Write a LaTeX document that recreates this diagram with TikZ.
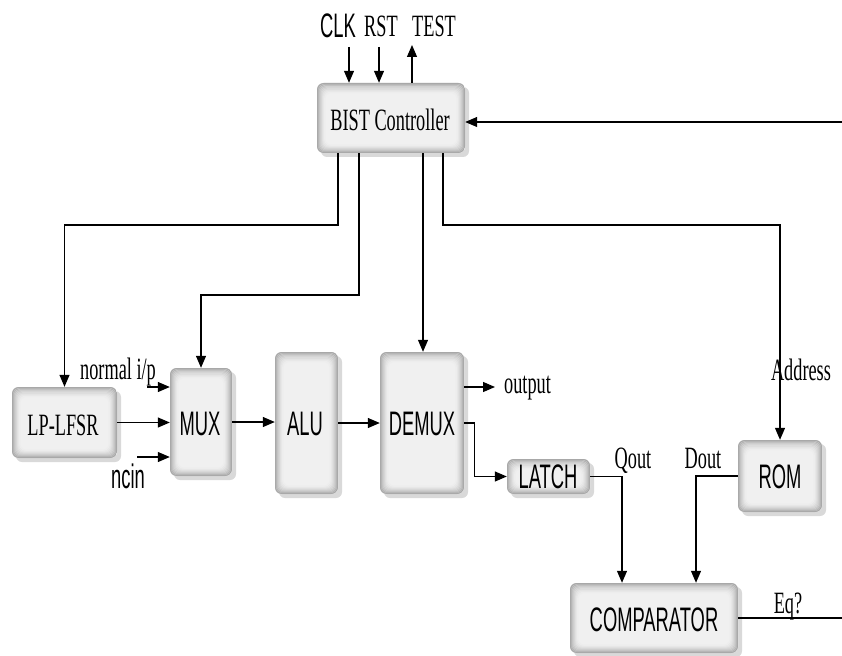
\documentclass[tikz,border=0pt]{standalone}
\usepackage{fontspec}
\setmainfont{Liberation Serif}[FakeStretch=0.59]
\setsansfont{Liberation Sans}[FakeStretch=0.54]
\usetikzlibrary{arrows.meta,shadows,calc}
\begin{document}
\begin{tikzpicture}[x=1pt,y=-1pt,
  font=\fontsize{31}{32}\selectfont,
  sf/.style={font=\sffamily\fontsize{34}{35}\selectfont},
  arr/.style={line width=1.2pt,-{Triangle[length=12pt,width=10pt]}},
  wire/.style={line width=1.2pt},
  lbl/.style={anchor=base,inner sep=0pt},
  blk/.style={rounded corners=6pt, fill=gray!12, inner sep=0pt,
    drop shadow={shadow xshift=4pt,shadow yshift=-4pt,opacity=0.3,fill=gray},
    path picture={
      \foreach \k/\c in {0/68,1/58,2/49,3/41,4/34,5/28,6/22,7/18,8/14}{
        \draw[gray!\c, line width=1.3pt, rounded corners=6pt]
          ([shift={({\k*0.9pt+0.65pt},{\k*0.9pt+0.65pt})}]path picture bounding box.south west) rectangle
          ([shift={({-\k*0.9pt-0.65pt},{-\k*1.1pt-0.65pt})}]path picture bounding box.north east);
      }
    }},
]
\useasboundingbox (0,0) rectangle (842,655);

% blocks
\node[blk, minimum width=148pt, minimum height=70pt] (bist) at (391,118) {};
\node[blk, minimum width=105pt, minimum height=71pt] (lfsr) at (64.5,422.5) {};
\node[blk, minimum width=62pt, minimum height=108pt] (mux) at (201,422) {};
\node[blk, minimum width=63pt, minimum height=142pt] (alu) at (306.5,423) {};
\node[blk, minimum width=84pt, minimum height=142pt] (demux) at (422,423) {};
\node[blk, minimum width=83pt, minimum height=35pt] (latch) at (548.5,476.5) {};
\node[blk, minimum width=84pt, minimum height=72pt] (rom) at (780,476) {};
\node[blk, minimum width=168pt, minimum height=70pt] (comp) at (654,618) {};

% block texts
\node[lbl] (tbist) at (390,131) {BIST Controller};
\node[lbl] (tlfsr) at (63,435) {LP-LFSR};
\node[lbl,sf] (tmux) at (200,435) {MUX};
\node[lbl,sf] (talu) at (305,435) {ALU};
\node[lbl,sf] (tdemux) at (422,435) {DEMUX};
\node[lbl,sf] (tlatch) at (548,488) {LATCH};
\node[lbl,sf] (trom) at (780,488) {ROM};
\node[lbl,sf] (tcomp) at (654,631) {COMPARATOR};

% signal labels
\node[lbl,sf] (lclk) at (338,38) {CLK};
\node[lbl] (lrst) at (381,37) {RST};
\node[lbl] (ltest) at (434,37) {TEST};
\node[lbl] (lnorm) at (118,379) {normal i/p};
\node[lbl,sf] (lncin) at (128,488) {ncin};
\node[lbl,anchor=base west] (lout) at (504,393) {output};
\node[lbl] (lq) at (633,468) {Qout};
\node[lbl] (ld) at (703,468) {Dout};
\node[lbl] (laddr) at (801,380) {Address};
\node[lbl] (leq) at (788,613) {Eq?};

% coordinates
\coordinate (clk) at (349,47);
\coordinate (rst) at (379,47);
\coordinate (test) at (412,45);
\coordinate (rin) at (842,122);
\coordinate (c1) at (338,225);
\coordinate (c2) at (359,295);
\coordinate (c3) at (423,0);
\coordinate (c4) at (443,225);
\coordinate (n1) at (147,387);
\coordinate (n2) at (137,457);
\coordinate (o1) at (495,387);
\coordinate (qx) at (622,0);
\coordinate (dx) at (696,0);
\coordinate (eq) at (842,618);

% connectors
\draw[arr] (clk) -- (clk |- bist.north);
\draw[arr] (rst) -- (rst |- bist.north);
\draw[arr] (test |- bist.north) -- (test);
\draw[arr] (rin) -- (rin -| bist.east);
\draw[arr] (c1 |- bist.south) -- (c1) -| (lfsr.north);
\draw[arr] (c2 |- bist.south) -- (c2) -| (mux.north);
\draw[arr] (c3 |- bist.south) -- (c3 |- demux.north);
\draw[arr] (c4 |- bist.south) -- (c4) -| (rom.north);
\draw[arr] (n1) -- (n1 -| mux.west);
\draw[arr] (lfsr.east) -- (lfsr.east -| mux.west);
\draw[arr] (n2) -- (n2 -| mux.west);
\draw[arr] (mux.east) -- (mux.east -| alu.west);
\draw[arr] (alu.east) -- (alu.east -| demux.west);
\draw[arr] (o1 -| demux.east) -- (o1);
\draw[arr] (demux.east) -- ++(10,0) |- (latch.west);
\draw[arr] (latch.east) -| (qx |- comp.north);
\draw[arr] (rom.west) -| (dx |- comp.north);
\draw[wire] (comp.east) -- (eq);
\end{tikzpicture}
\end{document}
